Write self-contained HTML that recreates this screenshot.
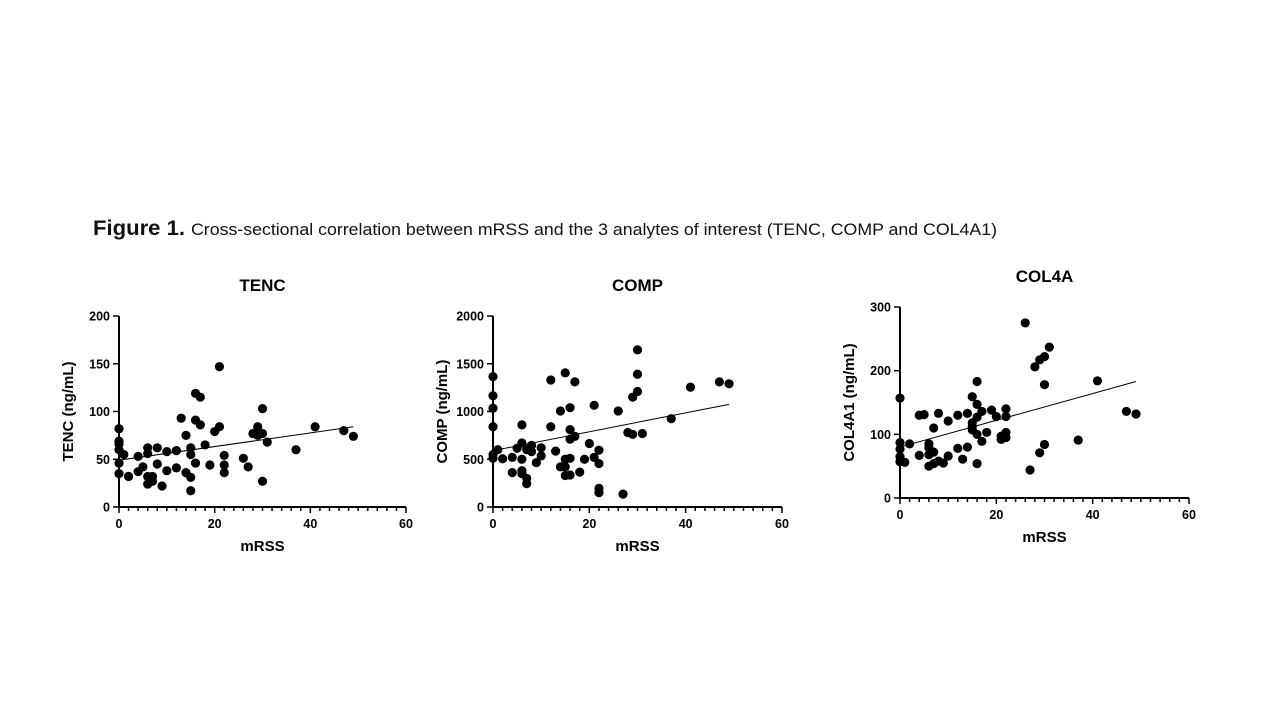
<!DOCTYPE html>
<html><head><meta charset="utf-8"><style>
html,body{margin:0;padding:0;background:#fff;width:1280px;height:720px;overflow:hidden}
svg text{font-family:"Liberation Sans",Arial,sans-serif}
</style></head><body>
<svg id="fig" width="1280" height="720" viewBox="0 0 1280 720" xmlns="http://www.w3.org/2000/svg">
<text x="93" y="235" font-size="21" font-weight="bold" fill="#111" textLength="92" lengthAdjust="spacingAndGlyphs">Figure 1.</text>
<text x="191" y="235" font-size="16.5" fill="#111" textLength="806" lengthAdjust="spacingAndGlyphs">Cross-sectional correlation between mRSS and the 3 analytes of interest (TENC, COMP and COL4A1)</text>
</svg>
<script>
const tencX=[0,0,0,0,0,0,1,2,4,4,5,6,6,6,6,7,7,8,8,9,10,10,12,12,13,14,14,15,15,15,15,16,16,16,17,17,18,19,20,21,21,22,22,22,26,27,28,29,29,30,30,30,31,37,41,47,49];
const tencY=[82,69,66,60,46,35,55,32,53,37,42,62,56,32,24,32,27,62,45,22,58,38,59,41,93,75,36,62,55,31,17,119,91,46,115,86,65,44,79,147,84,54,44,36,51,42,77,84,75,103,77,27,68,60,84,80,74];
const tencLine=[49,84];
const tencTicks=["0","50","100","150","200"];
const compX=[0,0,0,0,0,0,1,2,4,4,5,6,6,6,6,6,7,7,7,8,8,9,10,10,12,12,13,14,14,15,15,15,15,16,16,16,16,16,17,17,18,19,20,21,21,22,22,22,22,26,27,28,29,29,30,30,30,31,37,41,47,49];
const compY=[1365,1165,1035,840,550,510,600,505,520,360,615,860,670,500,380,350,300,245,600,645,580,465,620,535,1330,840,585,1005,420,1405,500,420,330,1040,810,710,510,335,1310,740,365,500,665,1065,520,595,455,195,150,1005,135,780,1150,760,1645,1390,1210,770,925,1255,1310,1290];
const compLine=[590,1075];
const compTicks=["0","500","1000","1500","2000"];
const colX=[0,0,0,0,0,1,2,4,4,5,6,6,6,6,7,7,7,8,8,9,10,10,12,12,13,14,14,15,15,15,15,16,16,16,16,16,17,17,18,19,20,21,21,22,22,22,22,26,27,28,29,29,30,30,30,31,37,41,47,49];
const colY=[157,87,77,65,57,56,85,130,67,131,85,79,68,50,110,72,54,133,58,55,121,66,130,78,61,133,80,159,118,112,107,183,147,127,100,54,136,89,103,138,128,97,92,140,128,103,95,275,44,206,217,71,222,178,84,237,91,184,136,132];
const colLine=[80,183];
const colTicks=["0","100","200","300"];
const xTicks=["0","20","40","60"];

const NS="http://www.w3.org/2000/svg";
const svg=document.getElementById('fig');
function mk(tag,attrs,parent){const e=document.createElementNS(NS,tag);for(const k in attrs)e.setAttribute(k,attrs[k]);(parent||svg).appendChild(e);return e;}

function chart(key,title,ytitle,X,Y,line,yTicks,ymax,x0,x1,y0,y1,titleY){
  const g=mk('g',{});
  
  
  const sx=v=>x0+(x1-x0)*v/60;
  const sy=v=>y0-(y0-y1)*v/ymax;
  const t=mk('text',{x:(x0+x1)/2,y:titleY,'text-anchor':'middle','font-size':'17','font-weight':'bold'},g);
  t.textContent=title;
  
  
  const ax=mk('path',{d:`M${x0} ${y1}V${y0}H${x1}`,stroke:'#000','stroke-width':'2',fill:'none'},g);
  
  
  for(let i=0;i<=30;i++){const v=i*2,major=v%20===0;const xx=sx(v);
    mk('line',{x1:xx,x2:xx,y1:y0,y2:y0+(major?6:4),stroke:'#000','stroke-width':'1.5'},g);}
  xTicks.forEach(s=>{const tx=mk('text',{x:sx(+s),y:y0+21,'text-anchor':'middle','font-size':'12.5','font-weight':'bold'},g);tx.textContent=s;
    
    });
  yTicks.forEach(s=>{const yy=sy(+s);mk('line',{x1:x0-6,x2:x0,y1:yy,y2:yy,stroke:'#000','stroke-width':'1.5'},g);
    const ty=mk('text',{x:x0-9,y:yy+4.5,'text-anchor':'end','font-size':'12.5','font-weight':'bold'},g);ty.textContent=s;
    
    });
  const xt=mk('text',{x:(x0+x1)/2,y:y0+44,'text-anchor':'middle','font-size':'15','font-weight':'bold'},g);xt.textContent='mRSS';
  
  
  const cy=(y0+y1)/2;
  const yt=mk('text',{x:x0-46,y:cy,'text-anchor':'middle','font-size':'15','font-weight':'bold',transform:`rotate(-90 ${x0-46} ${cy})`},g);yt.textContent=ytitle;
  
  
  const rl=mk('line',{x1:sx(0),y1:sy(line[0]),x2:sx(49),y2:sy(line[1]),stroke:'#000','stroke-width':'1'},g);
  
  
  X.forEach((v,i)=>{const c=mk('circle',{cx:sx(v),cy:sy(Y[i]),r:'4.6',fill:'#000'},g);
    
    });
}
chart('tenc','TENC','TENC (ng/mL)',tencX,tencY,tencLine,tencTicks,200,119,406,507,316,291);
chart('comp','COMP','COMP (ng/mL)',compX,compY,compLine,compTicks,2000,493,782,507,316,291);
chart('col4a','COL4A','COL4A1 (ng/mL)',colX,colY,colLine,colTicks,300,900,1189,498,307,282);
</script>
</body></html>
